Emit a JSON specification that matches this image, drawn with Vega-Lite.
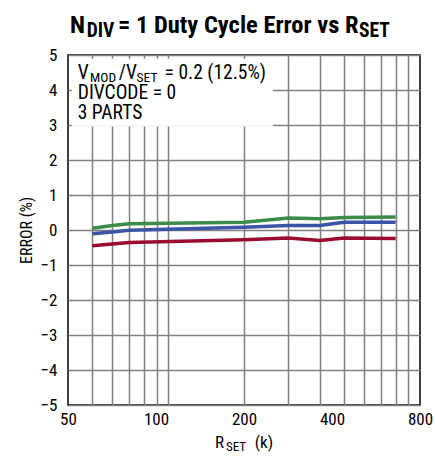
{
  "$schema": "https://vega.github.io/schema/vega-lite/v6.json",
  "width": 352,
  "height": 350,
  "autosize": "none",
  "padding": {"left": 68, "top": 55, "right": 15, "bottom": 56},
  "config": {
    "view": {"stroke": "#000000", "strokeWidth": 1.5},
    "font": "Liberation Sans Narrow, Roboto Condensed, DejaVu Sans Condensed, Liberation Sans, sans-serif",
    "text": {"font": "Liberation Sans Narrow, Roboto Condensed, DejaVu Sans Condensed, Liberation Sans, sans-serif", "color": "#000000", "align": "left", "baseline": "alphabetic"},
    "axis": {"labelFont": "Liberation Sans Narrow, Roboto Condensed, DejaVu Sans Condensed, Liberation Sans, sans-serif", "titleFont": "Liberation Sans Narrow, Roboto Condensed, DejaVu Sans Condensed, Liberation Sans, sans-serif", "labelColor": "#000000", "titleColor": "#000000"},
    "axisY": {"values": [-5, -4, -3, -2, -1, 0, 1, 2, 3, 4, 5], "grid": true, "gridColor": "#808080", "gridWidth": 1.5, "gridOpacity": 1, "ticks": false, "domain": false, "labelFontSize": 17, "labelPadding": 11, "labelFlush": false, "labelOverlap": false, "titleFontSize": 16, "titleFontWeight": "normal", "titlePadding": 6}
  },
  "datasets": {
    "curves": [
      {"rset": 50, "error": 0.05, "part": "A"},
      {"rset": 60, "error": 0.13, "part": "A"},
      {"rset": 70, "error": 0.18, "part": "A"},
      {"rset": 200, "error": 0.22, "part": "A"},
      {"rset": 300, "error": 0.34, "part": "A"},
      {"rset": 400, "error": 0.32, "part": "A"},
      {"rset": 500, "error": 0.36, "part": "A"},
      {"rset": 800, "error": 0.37, "part": "A"},
      {"rset": 50, "error": -0.11, "part": "B"},
      {"rset": 60, "error": -0.06, "part": "B"},
      {"rset": 70, "error": -0.01, "part": "B"},
      {"rset": 200, "error": 0.08, "part": "B"},
      {"rset": 300, "error": 0.13, "part": "B"},
      {"rset": 400, "error": 0.13, "part": "B"},
      {"rset": 500, "error": 0.22, "part": "B"},
      {"rset": 800, "error": 0.22, "part": "B"},
      {"rset": 50, "error": -0.45, "part": "C"},
      {"rset": 60, "error": -0.40, "part": "C"},
      {"rset": 70, "error": -0.36, "part": "C"},
      {"rset": 200, "error": -0.28, "part": "C"},
      {"rset": 300, "error": -0.23, "part": "C"},
      {"rset": 400, "error": -0.30, "part": "C"},
      {"rset": 500, "error": -0.23, "part": "C"},
      {"rset": 800, "error": -0.24, "part": "C"}
    ]
  },
  "layer": [
    {
      "data": {"name": "curves"},
      "mark": {"type": "line", "strokeWidth": 3.5},
      "encoding": {
        "x": {
          "field": "rset", "type": "quantitative",
          "scale": {"type": "log", "domain": [40, 1000], "nice": false},
          "axis": {"orient": "bottom", "values": [50, 60, 70, 80, 90, 100, 200, 300, 400, 500, 600, 700, 800, 900], "grid": true, "gridColor": "#808080", "gridWidth": 1.5, "gridOpacity": 1, "labels": false, "ticks": false, "domain": false, "title": null}
        },
        "y": {
          "field": "error", "type": "quantitative",
          "scale": {"domain": [-5, 5], "nice": false, "zero": false},
          "axis": {"title": "ERROR (%)"}
        },
        "color": {
          "field": "part", "type": "nominal",
          "scale": {"domain": ["A", "B", "C"], "range": ["#3b8c4b", "#3a55a5", "#9b0b2f"]},
          "legend": null
        }
      }
    },
    {
      "data": {"values": [{}]},
      "layer": [
        {
          "mark": {"type": "rect", "fill": "#ffffff", "stroke": null},
          "encoding": {
            "x": {"datum": 51.5, "type": "quantitative", "scale": {"type": "log", "domain": [50, 800], "nice": false},
              "axis": {"orient": "bottom", "values": [50, 100, 200, 400, 800], "format": "d", "grid": false, "ticks": false, "domain": false, "labelFontSize": 17, "labelPadding": 6, "labelFlush": false, "labelOverlap": false, "title": null}},
            "x2": {"datum": 251},
            "y": {"datum": 4.89, "type": "quantitative", "axis": {"title": "ERROR (%)"}},
            "y2": {"datum": 2.96}
          }
        },
        {"mark": {"type": "text", "text": "N", "fontSize": 24.5, "fontWeight": "bold"}, "encoding": {"x": {"datum": 50.8, "type": "quantitative"}, "y": {"datum": 5.629, "type": "quantitative"}}},
        {"mark": {"type": "text", "text": "DIV", "fontSize": 19.5, "fontWeight": "bold"}, "encoding": {"x": {"datum": 58.0, "type": "quantitative"}, "y": {"datum": 5.514, "type": "quantitative"}}},
        {"mark": {"type": "text", "text": "= 1 Duty Cycle Error vs R", "fontSize": 24.5, "fontWeight": "bold"}, "encoding": {"x": {"datum": 74.1, "type": "quantitative"}, "y": {"datum": 5.629, "type": "quantitative"}}},
        {"mark": {"type": "text", "text": "SET", "fontSize": 19.5, "fontWeight": "bold"}, "encoding": {"x": {"datum": 494.7, "type": "quantitative"}, "y": {"datum": 5.514, "type": "quantitative"}}},
        {"mark": {"type": "text", "text": "V", "fontSize": 19.5}, "encoding": {"x": {"datum": 54.0, "type": "quantitative"}, "y": {"datum": 4.306, "type": "quantitative"}}},
        {"mark": {"type": "text", "text": "MOD", "fontSize": 13.5}, "encoding": {"x": {"datum": 59.5, "type": "quantitative"}, "y": {"datum": 4.230, "type": "quantitative"}}},
        {"mark": {"type": "text", "text": "/V", "fontSize": 19.5}, "encoding": {"x": {"datum": 74.6, "type": "quantitative"}, "y": {"datum": 4.306, "type": "quantitative"}}},
        {"mark": {"type": "text", "text": "SET", "fontSize": 13.5}, "encoding": {"x": {"datum": 85.8, "type": "quantitative"}, "y": {"datum": 4.230, "type": "quantitative"}}},
        {"mark": {"type": "text", "text": "= 0.2 (12.5%)", "fontSize": 19.5}, "encoding": {"x": {"datum": 107.0, "type": "quantitative"}, "y": {"datum": 4.306, "type": "quantitative"}}},
        {"mark": {"type": "text", "text": "DIVCODE = 0", "fontSize": 19.5}, "encoding": {"x": {"datum": 54.0, "type": "quantitative"}, "y": {"datum": 3.743, "type": "quantitative"}}},
        {"mark": {"type": "text", "text": "3 PARTS", "fontSize": 19.5}, "encoding": {"x": {"datum": 54.0, "type": "quantitative"}, "y": {"datum": 3.171, "type": "quantitative"}}},
        {"mark": {"type": "text", "text": "R", "fontSize": 17}, "encoding": {"x": {"datum": 159.2, "type": "quantitative"}, "y": {"datum": -6.23, "type": "quantitative"}}},
        {"mark": {"type": "text", "text": "SET", "fontSize": 13}, "encoding": {"x": {"datum": 173.6, "type": "quantitative"}, "y": {"datum": -6.31, "type": "quantitative"}}},
        {"mark": {"type": "text", "text": "(k)", "fontSize": 17}, "encoding": {"x": {"datum": 217.6, "type": "quantitative"}, "y": {"datum": -6.23, "type": "quantitative"}}}
      ]
    }
  ],
  "resolve": {"scale": {"x": "independent"}, "axis": {"x": "independent"}}
}
